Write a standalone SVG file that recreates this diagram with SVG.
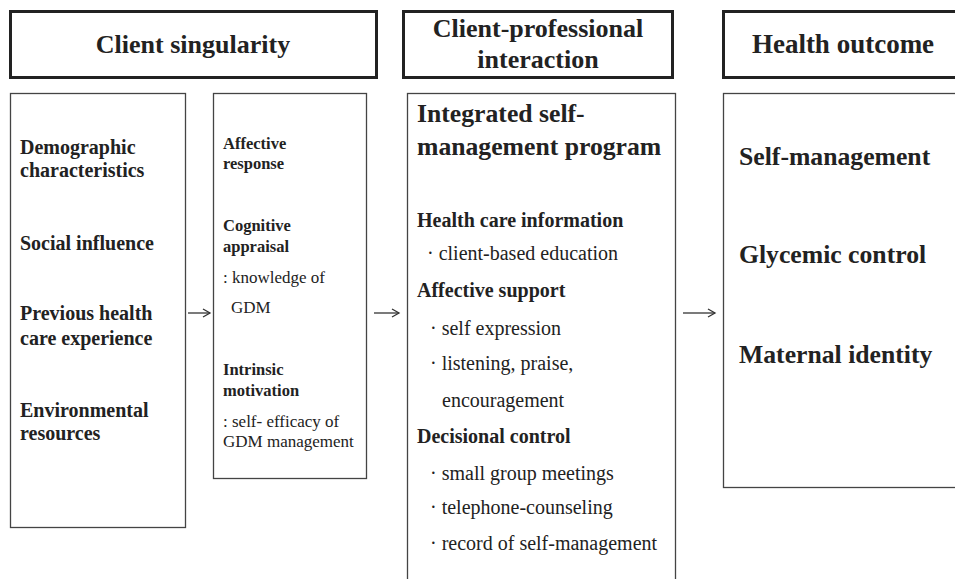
<svg xmlns="http://www.w3.org/2000/svg" width="955" height="579" viewBox="0 0 955 579">
<defs>
<marker id="arr" markerWidth="10" markerHeight="10" refX="8" refY="5" orient="auto" markerUnits="userSpaceOnUse">
<path d="M1,1 L8,5 L1,9" fill="none" stroke="#333" stroke-width="1.3"/>
</marker>
</defs>
<style>
.hdr{fill:#fff;stroke:#222;stroke-width:3}
.box{fill:#fff;stroke:#444;stroke-width:1.3}
.t{font-family:"Liberation Serif","Times New Roman",serif;fill:#222}
.h{font-size:26px;font-weight:bold;text-anchor:middle}
.b17{font-size:20px;font-weight:bold}
.b14{font-size:16.5px;font-weight:bold}
.r14{font-size:17px}
.b22{font-size:25.7px;font-weight:bold}
.b16{font-size:20px;font-weight:bold}
.r16{font-size:20px}
.b21{font-size:25.7px;font-weight:bold}
.conn{stroke:#333;stroke-width:1.3;fill:none}
</style>
<rect width="955" height="579" fill="#fff"/>
<g id="hdr-client-singularity">
<rect class="hdr" x="10.5" y="11.5" width="366" height="66"/>
<text class="t h" x="193" y="53">Client singularity</text>
</g>
<g id="hdr-client-professional">
<rect class="hdr" x="403.5" y="11.5" width="269" height="66"/>
<text class="t h" x="538" y="37">Client-professional</text>
<text class="t h" x="538" y="68">interaction</text>
</g>
<g id="hdr-health-outcome">
<rect class="hdr" x="723.5" y="11.5" width="240" height="66"/>
<text class="t h" x="843" y="53" style="font-size:27px">Health  outcome</text>
</g>
<g id="box-client-factors">
<rect class="box" x="10.5" y="93.5" width="175" height="434"/>
<text class="t b17" x="20" y="154">Demographic</text>
<text class="t b17" x="20" y="177">characteristics</text>
<text class="t b17" x="20" y="250">Social influence</text>
<text class="t b17" x="20" y="320">Previous health</text>
<text class="t b17" x="20" y="345">care experience</text>
<text class="t b17" x="20" y="417">Environmental</text>
<text class="t b17" x="20" y="440">resources</text>
</g>
<g id="box-client-responses">
<rect class="box" x="213.5" y="93.5" width="153" height="385"/>
<text class="t b14" x="223" y="149">Affective</text>
<text class="t b14" x="223" y="169">response</text>
<text class="t b14" x="223" y="231">Cognitive</text>
<text class="t b14" x="223" y="252">appraisal</text>
<text class="t r14" x="223" y="283">: knowledge of</text>
<text class="t r14" x="231" y="313">GDM</text>
<text class="t b14" x="223" y="375">Intrinsic</text>
<text class="t b14" x="223" y="396">motivation</text>
<text class="t r14" x="223" y="427">: self- efficacy of</text>
<text class="t r14" x="223" y="447">GDM management</text>
</g>
<g id="box-program">
<rect class="box" x="407.5" y="93.5" width="268" height="500"/>
<text class="t b22" x="417" y="122">Integrated self-</text>
<text class="t b22" x="417" y="155">management program</text>
<text class="t b16" x="417" y="227">Health care information</text>
<text class="t r16" x="427" y="260">· client-based education</text>
<text class="t b16" x="417" y="297">Affective support</text>
<text class="t r16" x="430" y="335">· self expression</text>
<text class="t r16" x="430" y="370">· listening, praise,</text>
<text class="t r16" x="442" y="407">encouragement</text>
<text class="t b16" x="417" y="443">Decisional control</text>
<text class="t r16" x="430" y="480">· small group meetings</text>
<text class="t r16" x="430" y="514">· telephone-counseling</text>
<text class="t r16" x="430" y="550">· record of self-management</text>
</g>
<g id="box-outcomes">
<rect class="box" x="723.5" y="93.5" width="240" height="394"/>
<text class="t b21" x="739" y="165">Self-management</text>
<text class="t b21" x="739" y="263">Glycemic control</text>
<text class="t b21" x="739" y="363">Maternal identity</text>
</g>
<g id="connectors">
<line class="conn" x1="188" y1="313" x2="210" y2="313" marker-end="url(#arr)"/>
<line class="conn" x1="374" y1="313" x2="399" y2="313" marker-end="url(#arr)"/>
<line class="conn" x1="683" y1="313" x2="715" y2="313" marker-end="url(#arr)"/>
</g>
</svg>
